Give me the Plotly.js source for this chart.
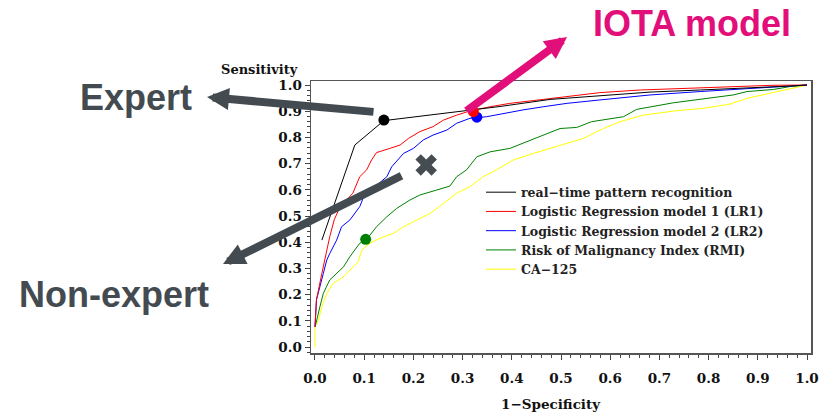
<!DOCTYPE html>
<html>
<head>
<meta charset="utf-8">
<script src="https://cdn.plot.ly/plotly-3.0.1.min.js"></script>
<style>html,body{margin:0;padding:0;background:#fff;}#chart{width:821px;height:412px;}</style>
</head>
<body>
<div id="chart"></div>
<script>
// ---- data ----
const seriesNames = ["real\u2212time pattern recognition", "Logistic Regression model 1 (LR1)", "Logistic Regression model 2 (LR2)", "Risk of Malignancy Index (RMI)", "CA\u2212125"];

const rtX = [0.014,0.081,0.140,0.308,0.376,0.478,0.579,0.681,0.783,0.884,0.965,1.0];
const rtY = [0.408,0.771,0.864,0.902,0.918,0.945,0.960,0.973,0.981,0.988,0.996,1.0];

const lr1X = [0,0.003,0.014,0.022,0.030,0.039,0.051,0.064,0.077,0.091,0.105,0.115,0.125,0.152,0.173,0.190,0.213,0.240,0.261,0.288,0.315,0.356,0.396,0.464,0.512,0.579,0.661,0.748,0.843,0.931,1.0];
const lr1Y = [0.077,0.18,0.281,0.358,0.421,0.485,0.536,0.561,0.587,0.650,0.676,0.714,0.742,0.758,0.771,0.796,0.822,0.841,0.866,0.885,0.901,0.917,0.930,0.945,0.955,0.971,0.981,0.987,0.994,0.999,1.0];

const lr2X = [0,0.003,0.017,0.024,0.030,0.044,0.054,0.071,0.091,0.102,0.122,0.146,0.156,0.169,0.180,0.200,0.220,0.240,0.268,0.288,0.315,0.349,0.383,0.423,0.464,0.512,0.579,0.681,0.783,0.884,0.965,1.0];
const lr2Y = [0.077,0.18,0.281,0.332,0.357,0.408,0.459,0.485,0.536,0.587,0.612,0.650,0.688,0.714,0.739,0.758,0.790,0.809,0.828,0.854,0.873,0.879,0.892,0.905,0.917,0.930,0.943,0.962,0.975,0.987,0.996,1.0];

const rmiX = [0,0.002,0.010,0.017,0.030,0.044,0.058,0.071,0.091,0.105,0.125,0.146,0.166,0.193,0.213,0.247,0.274,0.288,0.308,0.329,0.356,0.396,0.430,0.464,0.498,0.532,0.562,0.627,0.654,0.728,0.796,0.850,0.878,0.932,0.965,1.0];
const rmiY = [0.077,0.09,0.154,0.205,0.256,0.281,0.306,0.345,0.396,0.411,0.459,0.497,0.529,0.561,0.580,0.599,0.614,0.650,0.676,0.726,0.745,0.758,0.784,0.809,0.834,0.838,0.860,0.879,0.907,0.932,0.949,0.962,0.975,0.983,0.994,1.0];

const caX = [0,0,0.007,0.014,0.024,0.037,0.058,0.071,0.088,0.095,0.112,0.132,0.159,0.180,0.207,0.234,0.261,0.288,0.315,0.342,0.369,0.403,0.444,0.498,0.545,0.586,0.620,0.667,0.735,0.789,0.843,0.878,0.918,0.959,1.0];
const caY = [0,0.077,0.103,0.154,0.205,0.243,0.268,0.294,0.326,0.370,0.396,0.415,0.434,0.459,0.485,0.510,0.548,0.587,0.612,0.650,0.676,0.714,0.739,0.771,0.796,0.834,0.860,0.885,0.902,0.911,0.927,0.949,0.966,0.983,1.0];

// operating points
const expertPt = {x:[0.140], y:[0.866]};
const iotaPt = {x:[0.322], y:[0.898]};
const lr2Pt = {x:[0.329], y:[0.877]};
const rmiPt = {x:[0.103], y:[0.411]};
const nonExpertPt = {x:[0.226], y:[0.695]};

const tickVals = [0,0.1,0.2,0.3,0.4,0.5,0.6,0.7,0.8,0.9,1.0];
const tickText = ["0.0","0.1","0.2","0.3","0.4","0.5","0.6","0.7","0.8","0.9","1.0"];

// ---- chart ----
const W = 821, H = 412;
const M = {l:311, r:10, t:81, b:59};
const PW = W - M.l - M.r, PH = H - M.t - M.b;
function px2paper(px, py){ return {x:(px - M.l)/PW, y:(H - M.b - py)/PH}; }

const lineW = 1;
const traces = [
  {x:caX, y:caY, name:seriesNames[4], mode:'lines', line:{color:'#ffff00', width:lineW}},
  {x:rmiX, y:rmiY, name:seriesNames[3], mode:'lines', line:{color:'#008000', width:lineW}},
  {x:lr2X, y:lr2Y, name:seriesNames[2], mode:'lines', line:{color:'#0000ff', width:lineW}},
  {x:lr1X, y:lr1Y, name:seriesNames[1], mode:'lines', line:{color:'#ff0000', width:lineW}},
  {x:rtX, y:rtY, name:seriesNames[0], mode:'lines', line:{color:'#000000', width:lineW}},
  {x:expertPt.x, y:expertPt.y, mode:'markers', marker:{color:'#000', size:11}, showlegend:false},
  {x:lr2Pt.x, y:lr2Pt.y, mode:'markers', marker:{color:'#0000ff', size:11}, showlegend:false},
  {x:iotaPt.x, y:iotaPt.y, mode:'markers', marker:{color:'#ff0000', size:11}, showlegend:false},
  {x:rmiPt.x, y:rmiPt.y, mode:'markers', marker:{color:'#008000', size:11}, showlegend:false},
  {x:nonExpertPt.x, y:nonExpertPt.y, mode:'markers', marker:{color:'#454c52', size:19, symbol:'x'}, showlegend:false}
];

const tickFont = {family:'DejaVu Serif', size:13.5, color:'#111', weight:'bold'};
const axisCommon = {
  showgrid:false, zeroline:false, showline:true, linecolor:'#555', linewidth:1.5, mirror:true,
  ticks:'outside', ticklen:5, tickwidth:1, tickcolor:'#444',
  tickvals:tickVals, ticktext:tickText, tickfont:tickFont,
  minor:{dtick:0.02, ticklen:3, tickwidth:1, tickcolor:'#444', ticks:'outside'}
};

function arrow(tail, tip, color){
  const p = px2paper(tip[0], tip[1]);
  return {xref:'paper', yref:'paper', x:p.x, y:p.y, ax:tail[0]-tip[0], ay:tail[1]-tip[1],
          axref:'pixel', ayref:'pixel', text:'', showarrow:true, arrowhead:2, arrowsize:0.55,
          arrowwidth:8, arrowcolor:color, standoff:0, startstandoff:0};
}
function label(text, cx, cy, size, color, family, weight){
  const p = px2paper(cx, cy);
  return {xref:'paper', yref:'paper', x:p.x, y:p.y, xanchor:'center', yanchor:'middle', text:text,
          showarrow:false, font:{family:family, size:size, color:color, weight:weight}};
}

const gray = '#434b51', pink = '#e20f7b';
const layout = {
  width:W, height:H, margin:M, paper_bgcolor:'#fff', plot_bgcolor:'#fff',
  xaxis:Object.assign({range:[-0.0081, 1.0081], ticklabelstandoff:7}, axisCommon),
  yaxis:Object.assign({range:[-0.0229, 1.0153]}, axisCommon),
  legend:{x:0.34, y:0.645, xanchor:'left', yanchor:'top', bgcolor:'rgba(0,0,0,0)',
          font:{family:'DejaVu Serif', size:12.5, color:'#222', weight:'bold'}, traceorder:'reversed', tracegroupgap:0},
  annotations:[
    label('Sensitivity', 259, 70, 13, '#111', 'DejaVu Serif', 'bold'),
    label('1\u2212Specificity', 551, 404, 13.5, '#111', 'DejaVu Serif', 'bold'),
    label('Expert', 136, 97, 36, gray, 'Liberation Sans', 'bold'),
    label('Non-expert', 114, 294, 36, gray, 'Liberation Sans', 'bold'),
    label('IOTA model', 692, 23, 36, pink, 'Liberation Sans', 'bold'),
    arrow([375,112],[207,97], gray),
    arrow([403,175],[223,264], gray),
    arrow([465,112],[567,37], pink)
  ]
};

Plotly.newPlot('chart', traces, layout, {displayModeBar:false, staticPlot:true});
</script>
</body>
</html>
